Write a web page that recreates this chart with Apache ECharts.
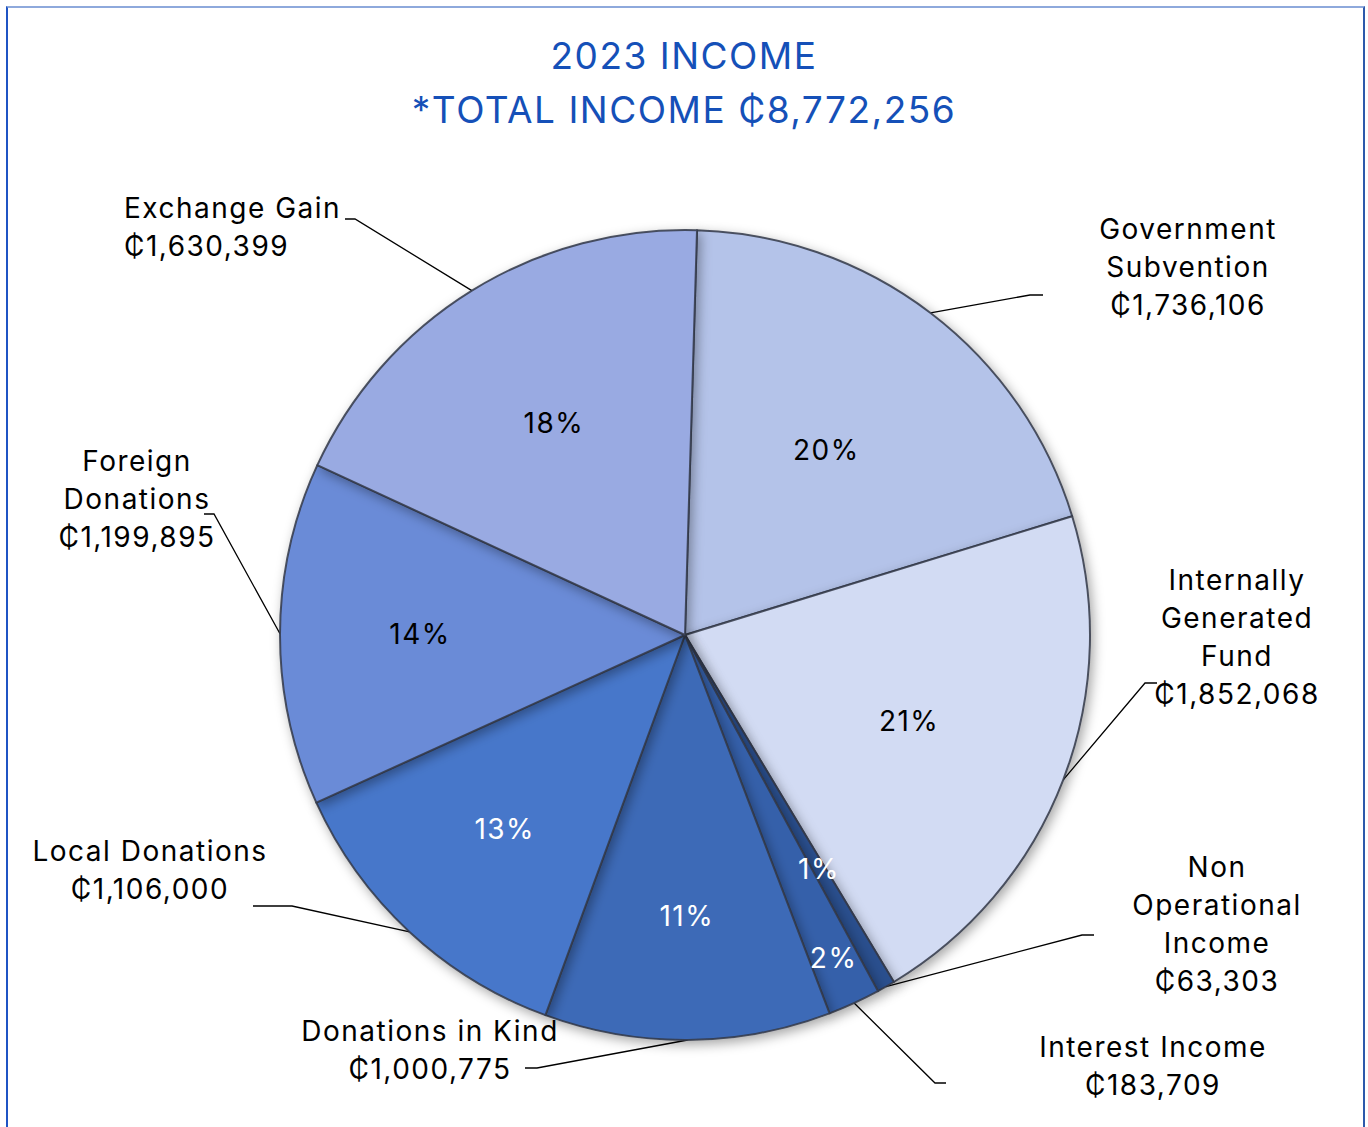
<!DOCTYPE html>
<html>
<head>
<meta charset="utf-8">
<title>2023 Income</title>
<script src="https://cdn.jsdelivr.net/npm/echarts@6/dist/echarts.min.js"></script>
<style>
  html, body { margin: 0; padding: 0; background: #fff; overflow: hidden; }
  #chart { position: absolute; left: 0; top: 0; width: 1368px; height: 1127px; }
  /* the original font is a touch wider */
  #chart text { letter-spacing: 1.5px; }
  /* frame round the chart, open at the bottom like the original */
  #frame {
    position: absolute; left: 6px; top: 6px; width: 1355px; height: 1200px;
    border-top: 2px solid #8ea9dc; border-left: 2px solid #1f54c4; border-right: 2px solid #2d59ab;
    pointer-events: none;
  }
</style>
</head>
<body>
<div id="chart"></div>
<div id="frame"></div>
<script>
// slices, clockwise from the top
var categories = ['Government\nSubvention', 'Internally\nGenerated\nFund', 'Non\nOperational\nIncome', 'Interest Income',
  'Donations in Kind', 'Local Donations', 'Foreign\nDonations', 'Exchange Gain'];
var amounts = [1736106, 1852068, 63303, 183709, 1000775, 1106000, 1199895, 1630399];
var totalText = '\u20B58,772,256';

var sliceColors = ['#b4c3e9', '#d2dbf3', '#2c4f8e', '#3560aa', '#3e6bb7', '#4677ca', '#6a8bd7', '#99aae2'];
var pctColors = ['#000', '#000', '#fff', '#fff', '#fff', '#fff', '#000', '#000'];

// outside label placement and leader line ends
var labelPos = [[1188, 267], [1237, 637], [1217, 924], [1153, 1066], [430, 1050], [150, 870], [137, 499], [124, 227]];
var labelAlign = ['center', 'center', 'center', 'center', 'center', 'center', 'center', 'left'];
var lineBends = [[1030, 295], [1145, 683], [1082, 935], [935, 1083], [537, 1068], [292, 906], [214, 514], [355, 219]];
var lineEnds = [[1043, 295], [1157, 683], [1094, 935], [946, 1083], [525, 1068], [253, 906], [204, 514], [345, 219]];
// distance of the % labels from the centre
var pctRadius = [233, 240, 270, 356, 281, 265, 265, 249];

var pieCenter = [685, 635];
var pieRadius = 405;
var font = 'Inter, "Noto Sans", "DejaVu Sans", sans-serif';

function money(v) {
  return '\u20B5' + v.toLocaleString('en-US');
}

var myChart = echarts.init(document.getElementById('chart'), null, { renderer: 'svg' });

var mainData = [];
var pctData = [];
for (var i = 0; i < amounts.length; i++) {
  mainData.push({
    name: categories[i],
    value: amounts[i],
    itemStyle: { color: sliceColors[i] }
  });
  pctData.push({
    name: categories[i],
    value: amounts[i],
    label: { color: pctColors[i] }
  });
}

var option = {
  animation: false,
  title: {
    text: '2023 INCOME\n*TOTAL INCOME ' + totalText,
    left: 'center',
    top: 23,
    textStyle: {
      color: '#1550b8',
      fontSize: 37,
      lineHeight: 54,
      fontWeight: 'normal',
      fontFamily: font
    }
  },
  series: [{
    // the slices, with the name / amount labels outside
    type: 'pie',
    center: pieCenter,
    radius: pieRadius,
    startAngle: 88.3,
    clockwise: true,
    avoidLabelOverlap: false,
    silent: true,
    data: mainData,
    itemStyle: {
      borderColor: 'rgba(50,56,72,0.85)',
      borderWidth: 2,
      shadowBlur: 12,
      shadowOffsetX: 3,
      shadowOffsetY: 4,
      shadowColor: 'rgba(0,0,0,0.35)'
    },
    label: {
      show: true,
      position: 'outside',
      color: '#000',
      fontSize: 28,
      lineHeight: 38,
      fontFamily: font,
      formatter: function (p) {
        return p.name + '\n' + money(p.value);
      }
    },
    labelLine: {
      show: true,
      length: 20,
      length2: 10,
      lineStyle: { color: '#000', width: 1.3 }
    },
    labelLayout: function (p) {
      var k = p.dataIndex;
      var pts = p.labelLinePoints;
      return {
        x: labelPos[k][0],
        y: labelPos[k][1],
        align: labelAlign[k],
        verticalAlign: 'middle',
        labelLinePoints: [pts[0], lineBends[k], lineEnds[k]]
      };
    }
  }, {
    // transparent copy carrying the % labels
    type: 'pie',
    center: pieCenter,
    radius: pieRadius,
    startAngle: 88.3,
    clockwise: true,
    silent: true,
    percentPrecision: 0,
    data: pctData,
    itemStyle: { color: 'rgba(0,0,0,0)' },
    label: {
      show: true,
      position: 'inside',
      fontSize: 28,
      fontFamily: font,
      formatter: '{d}%'
    },
    labelLine: { show: false },
    labelLayout: function (p) {
      var k = p.dataIndex;
      var r = p.labelRect;
      var dx = r.x + r.width / 2 - pieCenter[0];
      var dy = r.y + r.height / 2 - pieCenter[1];
      var d = Math.sqrt(dx * dx + dy * dy) || 1;
      return {
        x: pieCenter[0] + dx / d * pctRadius[k],
        y: pieCenter[1] + dy / d * pctRadius[k],
        align: 'center',
        verticalAlign: 'middle'
      };
    }
  }]
};

myChart.setOption(option);
window.addEventListener('resize', function () {
  myChart.resize();
});
</script>
</body>
</html>
